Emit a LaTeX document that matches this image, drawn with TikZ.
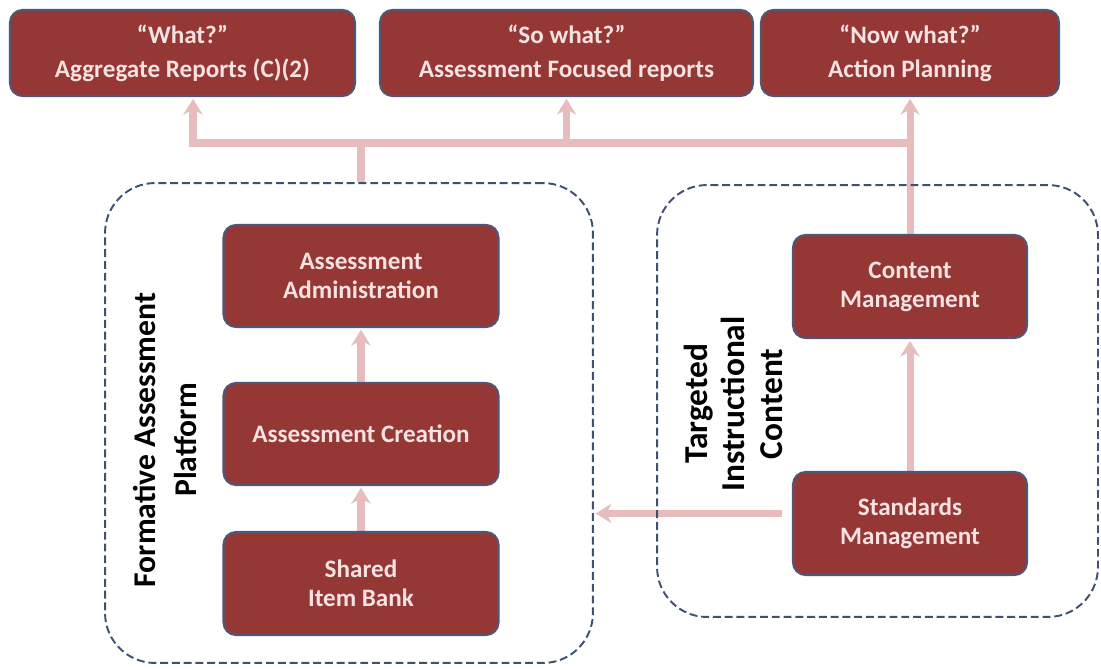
\documentclass[tikz,border=0pt]{standalone}
\usepackage{fontspec}
\setmainfont{Carlito}
\usetikzlibrary{arrows.meta,calc,positioning}
\definecolor{boxred}{HTML}{953735}
\definecolor{boxedge}{HTML}{4F5676}
\definecolor{boxtext}{HTML}{F6E2E1}
\definecolor{dashblue}{HTML}{3E5170}
\definecolor{linkpink}{HTML}{E6BDBC}
\pgfdeclarelayer{background}
\pgfsetlayers{background,main}
\tikzset{
	block/.style={rectangle, rounded corners=0.25cm, draw=boxedge, line width=1.2pt, fill=boxred, text=boxtext, font=\bfseries\fontsize{14.3}{16.5}\selectfont, align=center, inner sep=0pt},
	question/.style={block, font=\bfseries\fontsize{14.3}{19.5}\selectfont, minimum height=1.72cm},
	panel/.style={rectangle, draw=dashblue, line width=1.1pt, dash pattern=on 4.5pt off 2.2pt, rounded corners=1cm, inner sep=0pt},
	link/.style={draw=linkpink, line width=4pt},
	tip/.style={-{Stealth[length=9pt,width=11pt,inset=3pt]}, shorten >=1pt},
}

\begin{document}
\begin{tikzpicture}[x=0.02cm, y=-0.02cm]
			%%%%% START %%%%%
			\useasboundingbox (0,0) rectangle (1101,669);
			
			% questions on top
			\node[question, minimum width=6.9cm] (what) at (182.5,53) {“What?”\\Aggregate Reports (C)(2)};
			\node[question, minimum width=7.46cm] (sowhat) at (566.5,53) {“So what?”\\Assessment Focused reports};
			\node[question, minimum width=5.96cm] (nowwhat) at (910,53) {“Now what?”\\Action Planning};
			
			% two platforms
			\node[panel, minimum width=9.76cm, minimum height=9.6cm] (fap) at (349,423) {};
			\node[panel, minimum width=8.82cm, minimum height=8.64cm] (tic) at (877.5,401) {};
			
			\node[rotate=90, align=center, font=\bfseries\fontsize{18}{22.8}\selectfont] (faplabel) at (165,440) {Formative Assessment\\Platform};
			\node[rotate=90, align=center, font=\bfseries\fontsize{19}{21.4}\selectfont] (ticlabel) at (733,404) {Targeted\\Instructional\\Content};
			
			\node[block, minimum width=5.5cm, minimum height=2.04cm] (admin) at (361,276) {Assessment\\Administration};
			\node[block, minimum width=5.5cm, minimum height=2.04cm] (create) at (361,434) {Assessment Creation};
			\node[block, minimum width=5.5cm, minimum height=2.06cm] (bank) at (361,583.5) {Shared\\Item Bank};
			
			\node[block, minimum width=4.68cm, minimum height=2.06cm] (cm) at (910,286.5) {Content\\Management};
			\node[block, minimum width=4.68cm, minimum height=2.06cm] (sm) at (910,523.5) {Standards\\Management};
			
			% connectors
			\coordinate (barL) at (193,143);
			\coordinate (stub) at (fap.north -| create.north);
			\begin{pgfonlayer}{background}
				\draw[link, tip] (cm.north |- barL) -- (barL) -- (what.south -| barL);
				\draw[link, tip] (sowhat.south |- barL) -- (sowhat.south);
				\draw[link, tip] (cm.north) -- (nowwhat.south);
				\draw[link] (stub) -- (stub |- barL);
				\draw[link, tip] (bank) -- (create);
				\draw[link, tip] (create) -- (admin);
				\draw[link, tip] (sm) -- (cm);
				\draw[link, tip] ([xshift=-0.2cm, yshift=0.2cm]sm.west) -- ([yshift=0.2cm]sm.west -| fap.east);
			\end{pgfonlayer}
			
			%%%%% END %%%%%
\end{tikzpicture}
\end{document}
